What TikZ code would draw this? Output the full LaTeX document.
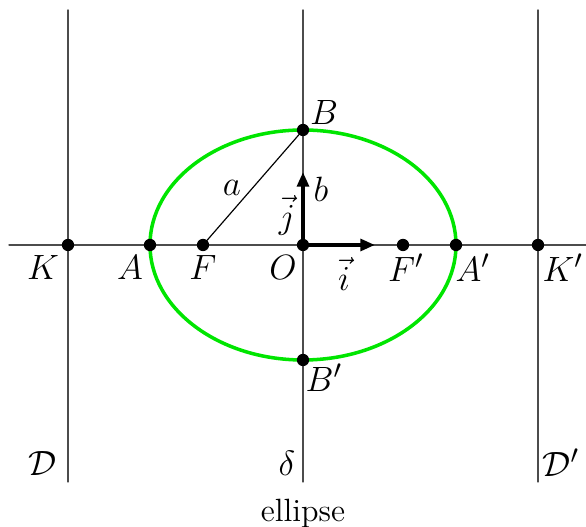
\documentclass[tikz,border=0pt]{standalone}
\usepackage{amsmath, amssymb}
\usepackage{tikz}
\usetikzlibrary{arrows.meta}
\usepackage{tkz-euclide}

\begin{document}
\begin{tikzpicture}[x=1.2cm, y=1.2cm, font=\fontsize{13}{15}\selectfont,
                axe/.style={draw=black!70, line width=0.45pt},
                vecteur/.style={line width=1.7pt, -{Triangle[length=5pt, width=4pt]}}]
                \useasboundingbox (-3.03,-2.82) rectangle (2.83,2.45);
                \tkzDefPoints{-2.35/0/K, -1.53/0/A, -1/0/F, 0/0/O, 1/0/Fp, 1.53/0/Ap, 2.35/0/Kp, 0/1.15/B, 0/-1.15/Bp}
                \tkzDefPoints{-2.94/0/W, 2.83/0/E, -2.35/2.35/Dh, -2.35/-2.37/Db, 0/2.35/dh, 0/-2.37/db, 2.35/2.35/Dph, 2.35/-2.37/Dpb}
                \tkzDefPoints{0.72/0/I, 0/0.73/J}
                \tkzDrawSegments[axe](W,E Dh,Db dh,db Dph,Dpb)
                \draw[green!90!black, line width=1.2pt] (O) ellipse [x radius=1.53, y radius=1.15];
                \tkzDrawSegment[black, line width=0.4pt](F,B)
                \draw[vecteur] (O) -- (I);
                \draw[vecteur] (O) -- (J);
                \foreach \p in {K,A,F,O,Fp,Ap,Kp,B,Bp} \fill (\p) circle (2.1pt);
                % noms des points
                \node (lK) at (-2.6,-0.23) {$K$};
                \node (lA) at (-1.73,-0.23) {$A$};
                \node (lF) at (-1,-0.23) {$F$};
                \node (lO) at (-0.2,-0.23) {$O$};
                \node (li) at (0.41,-0.29) {$\vec{i}$};
                \node (lFp) at (1.03,-0.23) {$F'$};
                \node (lAp) at (1.7,-0.23) {$A'$};
                \node (lKp) at (2.6,-0.23) {$K'$};
                \node (lB) at (0.21,1.32) {$B$};
                \node (lBp) at (0.21,-1.33) {$B'$};
                \node (la) at (-0.71,0.57) {$a$};
                \node (lb) at (0.18,0.56) {$b$};
                \node (lj) at (-0.16,0.3) {$\vec{j}$};
                \node (lD) at (-2.6,-2.18) {$\mathcal{D}$};
                \node (ld) at (-0.16,-2.18) {$\delta$};
                \node (lDp) at (2.58,-2.18) {$\mathcal{D}'$};
                \node[font=\fontsize{11}{13}\selectfont] (titre) at (0,-2.68) {ellipse};
            \end{tikzpicture}
\end{document}
